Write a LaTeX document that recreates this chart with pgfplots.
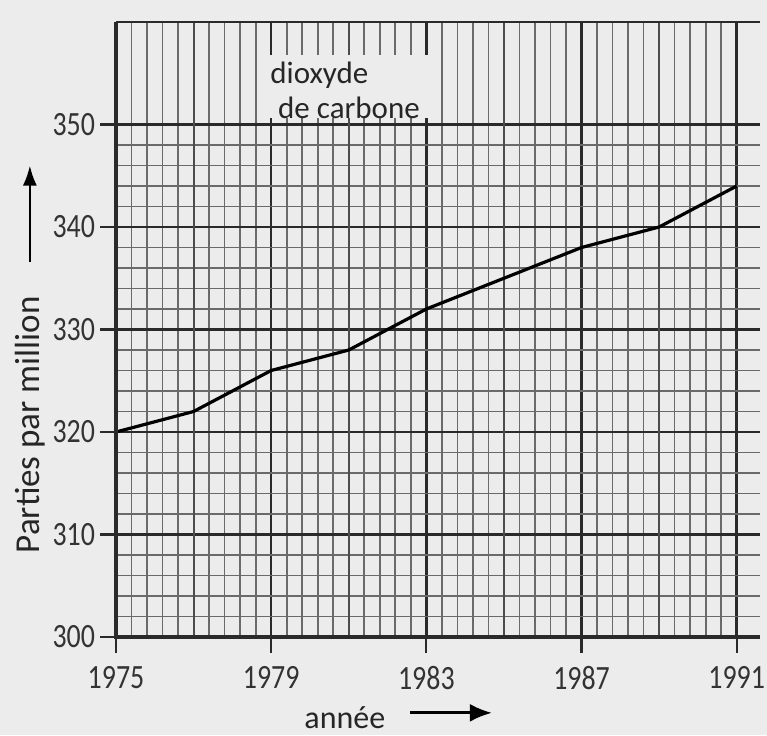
\documentclass[border=0pt]{standalone}
\usepackage{pgfplots}
\pgfplotsset{compat=1.18}
\usepackage{fontspec}
\setmainfont{Carlito}
\newfontfamily\tickfont[FakeStretch=0.82]{Carlito}
\usetikzlibrary{arrows.meta}
\definecolor{bg}{HTML}{ECECEC}
\definecolor{minorg}{HTML}{6A6A6A}
\definecolor{majorg}{HTML}{2A2A2A}
\begin{document}
\begin{tikzpicture}
\fill[bg] (-58pt,-49pt) rectangle (325.5pt,318.5pt);
\useasboundingbox (-58pt,-49pt) rectangle (325.5pt,318.5pt);
\begin{axis}[
  scale only axis,
  width=322pt, height=307.5pt,
  xmin=1975, xmax=1991.6,
  ymin=300, ymax=360,
  axis line style={draw=none},
  xtick={1975,1979,1983,1987,1991},
  ytick={300,310,320,330,340,350},
  minor x tick num=9,
  minor y tick num=4,
  minor tick length=0pt,
  major tick length=8pt,
  tick align=outside,
  tick style={majorg, line width=1.1pt},
  xtick pos=bottom, ytick pos=left,
  grid=both,
  minor grid style={minorg, line width=0.85pt},
  major grid style={majorg, line width=1.25pt},
  extra x ticks={1977,1981,1985,1989},
  extra x tick labels={},
  extra x tick style={major tick length=0pt, major grid style={draw=black!70, line width=1.0pt}},
  /pgf/number format/assume math mode=true,
  /pgf/number format/1000 sep={},
  tick label style={font=\tickfont\fontsize{17}{19}\selectfont, text=black!80},
  yticklabel style={xshift=1pt},
  xticklabel style={yshift=-3pt},
  clip=false,
]
\addplot[black, line width=1.6pt, line join=round] coordinates {
  (1975,320) (1977,322) (1979,326) (1981,328) (1983,332) (1985,335) (1987,338) (1989,340) (1991,344)
};
% frame
\draw[majorg, line width=1.6pt] (rel axis cs:0,1) -- (rel axis cs:0,0) -- (rel axis cs:1,0);
\draw[majorg, line width=1.4pt] (rel axis cs:0,1) -- (rel axis cs:1,1);
% label box
\fill[bg] (axis cs:1978.63,350.6) rectangle (axis cs:1983.09,356.8);
\node[anchor=west, inner sep=0pt, font=\fontsize{15.5}{17}\selectfont, text=black!85] at (axis cs:1978.97,354.8) {dioxyde};
\node[anchor=west, inner sep=0pt, font=\fontsize{15.5}{17}\selectfont, text=black!85] at (axis cs:1979.17,351.6) {de carbone};
% axis labels
\node[font=\fontsize{16}{18}\selectfont, text=black!85] at (axis cs:1980.9,292.1) {année};
\draw[black, line width=1.4pt, -{Latex[length=11pt,width=9pt]}] (axis cs:1982.58,292.6) -- (axis cs:1984.69,292.6);
\node[rotate=90, font=\fontsize{17.5}{19}\selectfont, text=black!85] at (axis cs:1972.78,320.7) {Parties par million};
\draw[black, line width=1.2pt, -{Latex[length=10pt,width=7pt]}] (axis cs:1972.78,336.6) -- (axis cs:1972.78,346.0);
\end{axis}
\end{tikzpicture}
\end{document}
